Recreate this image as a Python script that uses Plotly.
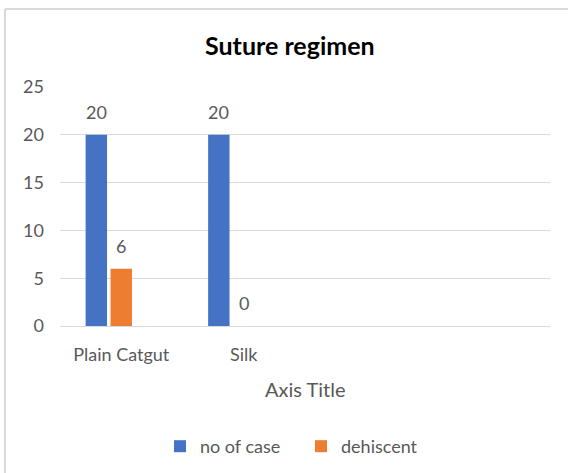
import plotly.graph_objects as go

categories = ["Plain Catgut", "Silk", " ", "  "]
no_of_case = [20, 20, None, None]
dehiscent = [6, 0, None, None]
series3 = [None, None, None, None]
series_names = ["no of case", "dehiscent", "Series3"]
series_values = [no_of_case, dehiscent, series3]
colors = ["#4472C4", "#ED7D31", "#A5A5A5"]
y_ticks = [0, 5, 10, 15, 20, 25]

FONT = "Lato, 'Open Sans', sans-serif"
TXT = "#595959"
BARGAP = 0.39
NSER = 3

# plot area in page pixels: x 60..550, y 87..326
PX0, PW, PY0, PH = 60, 490, 326, 239


def px(x):
    return (x - PX0) / PW


def py(y):
    return (PY0 - y) / PH


fig = go.Figure()
for i, (nm, vals) in enumerate(zip(series_names, series_values)):
    fig.add_trace(go.Bar(
        x=categories, y=vals, name=nm, marker=dict(color=colors[i], line=dict(width=0)),
        showlegend=(i < 2), hoverinfo="skip"))

slot = (1 - BARGAP) / NSER
anns = []
for i, vals in enumerate(series_values):
    for j, v in enumerate(vals):
        if v is None:
            continue
        anns.append(dict(x=j + (i - (NSER - 1) / 2) * slot, y=v, xref="x", yref="y",
                         text=str(v), showarrow=False, yanchor="bottom", yshift=10,
                         font=dict(family=FONT, size=18, color=TXT)))

anns.append(dict(text="<b>Suture regimen</b>", x=px(290), y=py(45), xref="paper", yref="paper",
                 xanchor="center", yanchor="middle", showarrow=False,
                 font=dict(family=FONT, size=25, color="#000000")))
anns.append(dict(text="Axis Title", x=0.5, y=py(389), xref="paper", yref="paper",
                 xanchor="center", yanchor="middle", showarrow=False,
                 font=dict(family=FONT, size=20, color=TXT)))

fig.update_layout(
    width=568, height=473,
    margin=dict(l=60, r=18, t=87, b=147, autoexpand=False),
    paper_bgcolor="white", plot_bgcolor="white",
    barmode="group", bargap=BARGAP, bargroupgap=0.14,
    font=dict(family=FONT, size=18, color=TXT),
    annotations=anns,
    showlegend=True,
    legend=dict(orientation="h", x=px(160), xanchor="left",
                y=py(446.5), yanchor="middle", entrywidth=96, entrywidthmode="pixels",
                font=dict(family=FONT, size=18, color=TXT), traceorder="normal"),
    shapes=[
        dict(type="line", xref="paper", yref="paper", x0=px(5), x1=px(5),
             y0=py(9), y1=py(480), line=dict(color="#d9d9d9", width=2)),
        dict(type="line", xref="paper", yref="paper", x0=px(5), x1=px(580),
             y0=py(9), y1=py(9), line=dict(color="#d9d9d9", width=2)),
    ],
)
fig.update_xaxes(type="category", categoryorder="array", categoryarray=categories,
                 range=[-0.5, 3.5], showgrid=False, showline=False, zeroline=False,
                 ticks="", ticklabelstandoff=16,
                 tickfont=dict(family=FONT, size=18, color=TXT))
fig.update_yaxes(range=[0, 25], tickmode="array", tickvals=y_ticks, showgrid=True,
                 gridcolor="#d9d9d9", gridwidth=1, zeroline=True, zerolinecolor="#d9d9d9",
                 zerolinewidth=1, showline=False, ticks="", ticklabelstandoff=15,
                 tickfont=dict(family=FONT, size=18, color=TXT))

fig.write_html("out.html", config={"displayModeBar": False},
               post_script="document.body.style.margin='0';")
